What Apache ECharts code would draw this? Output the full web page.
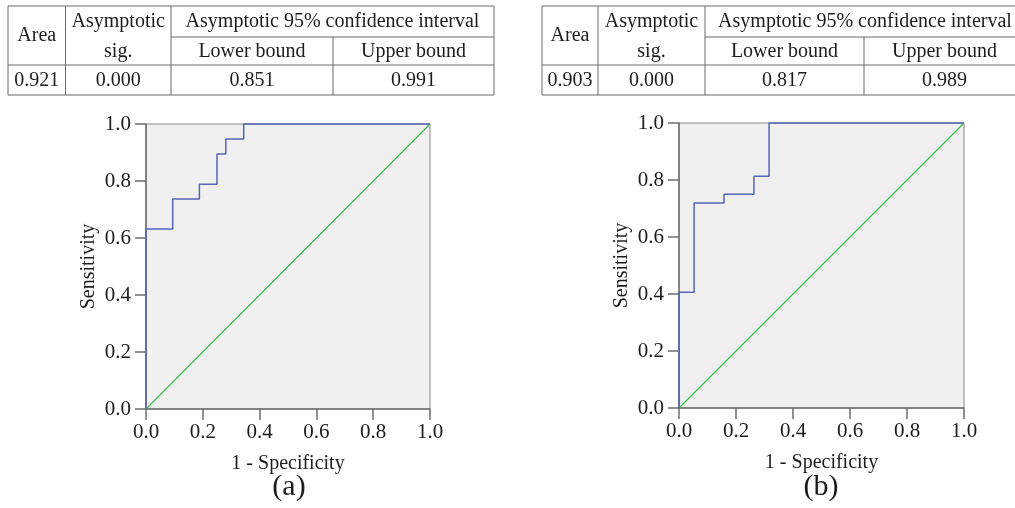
<!DOCTYPE html>
<html>
<head>
<meta charset="utf-8">
<script src="https://cdn.jsdelivr.net/npm/echarts@6/dist/echarts.min.js"></script>
<style>
html,body{margin:0;padding:0;background:#fff;}
#c{width:1015px;height:508px;}
</style>
</head>
<body>
<div id="c"></div>
<script>
// ---- data ----
var headerArea = 'Area';
var headerSig = ['Asymptotic', 'sig.'];
var headerCI = 'Asymptotic 95% confidence interval';
var headerBounds = ['Lower bound', 'Upper bound'];
var tableAValues = ['0.921', '0.000', '0.851', '0.991'];
var tableBValues = ['0.903', '0.000', '0.817', '0.989'];

var axisTicks = [0, 0.2, 0.4, 0.6, 0.8, 1.0];

// ROC (a): 1 - specificity, sensitivity
var fprA = [0, 0, 0.094, 0.094, 0.188, 0.188, 0.25, 0.25, 0.281, 0.281, 0.344, 0.344, 1];
var tprA = [0, 0.632, 0.632, 0.737, 0.737, 0.789, 0.789, 0.895, 0.895, 0.947, 0.947, 1, 1];
// ROC (b)
var fprB = [0, 0, 0.053, 0.053, 0.158, 0.158, 0.263, 0.263, 0.316, 0.316, 1];
var tprB = [0, 0.406, 0.406, 0.719, 0.719, 0.75, 0.75, 0.813, 0.813, 1, 1];
// reference line
var refX = [0, 1];
var refY = [0, 1];

var panelLabels = ['(a)', '(b)'];
var xName = '1 - Specificity';
var yName = 'Sensitivity';

// ---- build ----
var FONT = '"Liberation Serif", "Times New Roman", serif';
var LINE = '#6a6a6a';
var TXT = '#1c1c1c';

function zip(a, b) { return a.map(function (v, i) { return [v, b[i]]; }); }

function table(cols, rows, values) {
  var g = [];
  function hl(x1, x2, y) { g.push({type: 'line', shape: {x1: x1, y1: y, x2: x2, y2: y}, style: {stroke: LINE, lineWidth: 1}}); }
  function vl(x, y1, y2) { g.push({type: 'line', shape: {x1: x, y1: y1, x2: x, y2: y2}, style: {stroke: LINE, lineWidth: 1}}); }
  function tx(s, x, y) { g.push({type: 'text', x: x, y: y, style: {text: s, font: '20px ' + FONT, fill: TXT, align: 'center', verticalAlign: 'middle'}}); }
  hl(cols[0], cols[4], rows[0]);
  hl(cols[2], cols[4], rows[1]);
  hl(cols[0], cols[4], rows[2]);
  hl(cols[0], cols[4], rows[3]);
  vl(cols[0], rows[0], rows[3]);
  vl(cols[1], rows[0], rows[3]);
  vl(cols[2], rows[0], rows[3]);
  vl(cols[3], rows[1], rows[3]);
  vl(cols[4], rows[0], rows[3]);
  function cx(i) { return (cols[i] + cols[i + 1]) / 2; }
  tx(headerArea, cx(0), (rows[0] + rows[2]) / 2);
  tx(headerSig[0], cx(1), 22);
  tx(headerSig[1], cx(1), 52);
  tx(headerCI, (cols[2] + cols[4]) / 2, (rows[0] + rows[1]) / 2);
  tx(headerBounds[0], cx(2), (rows[1] + rows[2]) / 2 + 0.5);
  tx(headerBounds[1], cx(3), (rows[1] + rows[2]) / 2 + 0.5);
  for (var i = 0; i < 4; i++) tx(values[i], cx(i), (rows[2] + rows[3]) / 2 + 0.5);
  return g;
}

var rowsY = [6, 37, 65, 95];
var graphics = [].concat(
  table([8, 65.5, 171, 333, 494], rowsY, tableAValues),
  table([542, 598, 705, 864, 1025], rowsY, tableBValues)
);
graphics.push({type: 'text', x: 289, y: 487, style: {text: panelLabels[0], font: '30px ' + FONT, fill: TXT, align: 'center', verticalAlign: 'middle'}});
graphics.push({type: 'text', x: 821, y: 487, style: {text: panelLabels[1], font: '30px ' + FONT, fill: TXT, align: 'center', verticalAlign: 'middle'}});

var grids = [
  {left: 146, top: 124, width: 284, height: 285},
  {left: 679, top: 123, width: 285, height: 285}
].map(function (g) {
  return Object.assign({show: true, backgroundColor: '#f0f0f0', borderColor: '#8a8a8a', borderWidth: 1, containLabel: false}, g);
});

function xAxis(idx) {
  return {
    type: 'value', gridIndex: idx, min: 0, max: 1, interval: 0.2,
    name: xName, nameLocation: 'middle', nameGap: 45,
    nameTextStyle: {fontFamily: FONT, fontSize: 20, color: TXT},
    axisLine: {show: true, onZero: false, lineStyle: {color: '#6e6e6e', width: 1.5}},
    axisTick: {show: true, inside: false, length: 11, lineStyle: {color: '#6e6e6e', width: 1.5}},
    axisLabel: {margin: 13, fontFamily: FONT, fontSize: 21, color: TXT, formatter: function (v) { return v.toFixed(1); }},
    splitLine: {show: false}
  };
}
function yAxis(idx) {
  return {
    type: 'value', gridIndex: idx, min: 0, max: 1, interval: 0.2,
    name: yName, nameLocation: 'middle', nameGap: 47,
    nameTextStyle: {fontFamily: FONT, fontSize: 20, color: TXT},
    axisLine: {show: true, onZero: false, lineStyle: {color: '#6e6e6e', width: 1.5}},
    axisTick: {show: true, inside: false, length: 11, lineStyle: {color: '#6e6e6e', width: 1.5}},
    axisLabel: {margin: 15, fontFamily: FONT, fontSize: 21, color: TXT, formatter: function (v) { return v.toFixed(1); }},
    splitLine: {show: false}
  };
}

function rocSeries(idx, xs, ys) {
  return {type: 'line', xAxisIndex: idx, yAxisIndex: idx, data: zip(xs, ys), showSymbol: false, symbol: 'none', clip: false,
    lineStyle: {color: '#5565b8', width: 1.5}, z: 4, animation: false};
}
function refSeries(idx) {
  return {type: 'line', xAxisIndex: idx, yAxisIndex: idx, data: zip(refX, refY), showSymbol: false, symbol: 'none', clip: false,
    lineStyle: {color: '#3fbf4f', width: 1.2}, z: 3, animation: false};
}

var chart = echarts.init(document.getElementById('c'), null, {renderer: 'canvas'});
chart.setOption({
  animation: false,
  backgroundColor: '#ffffff',
  grid: grids,
  xAxis: [xAxis(0), xAxis(1)],
  yAxis: [yAxis(0), yAxis(1)],
  series: [refSeries(0), rocSeries(0, fprA, tprA), refSeries(1), rocSeries(1, fprB, tprB)],
  graphic: graphics
});
</script>
</body>
</html>
